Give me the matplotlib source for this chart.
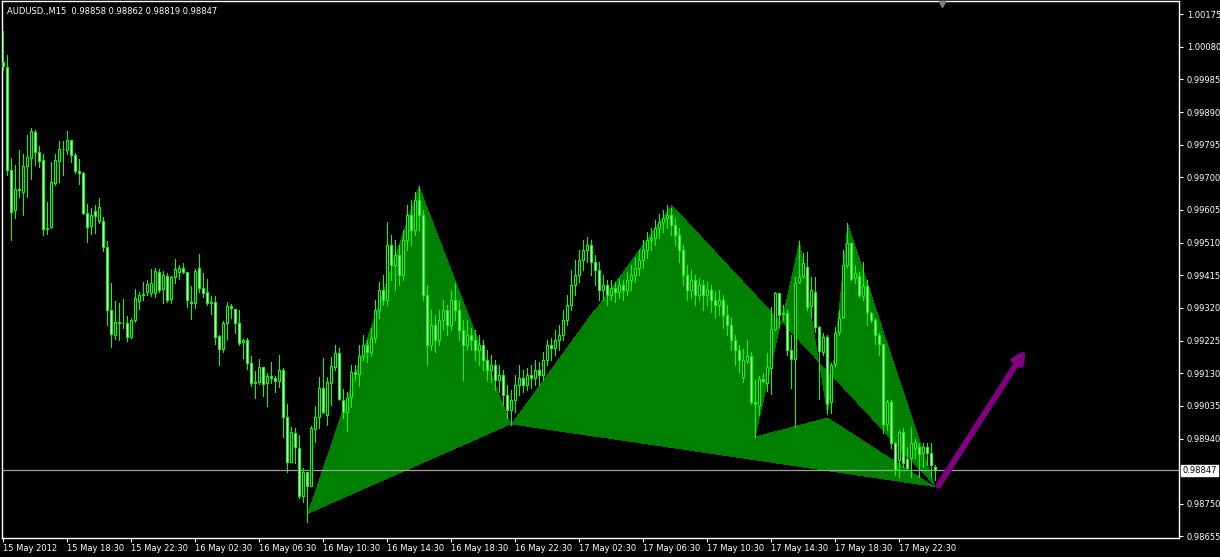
import numpy as np
import matplotlib
matplotlib.use("Agg")
import matplotlib.pyplot as plt
from matplotlib.path import Path
from matplotlib.patches import FancyArrowPatch
import matplotlib.transforms as mtransforms

title_text = "AUDUSD.,M15  0.98858 0.98862 0.98819 0.98847"

# OHLC in price points (1 point = 0.00001)
open_pts = [
    100036, 100021, 99721, 99605, 99666, 99657, 99733, 99756, 99832, 99774,
    99750, 99550, 99555, 99683, 99748, 99782, 99780, 99809, 99765, 99718,
    99713, 99596, 99558, 99602, 99573, 99573, 99497, 99314, 99241, 99279,
    99276, 99276, 99235, 99285, 99340, 99357, 99366, 99363, 99363, 99424,
    99375, 99413, 99346, 99410, 99424, 99436, 99424, 99337, 99334, 99436,
    99378, 99366, 99334, 99337, 99238, 99200, 99276, 99326, 99317, 99276,
    99221, 99227, 99160, 99101, 99104, 99148, 99101, 99122, 99116, 99107,
    99139, 99003, 98872, 98956, 98912, 98773, 98843, 98802, 98968, 99003,
    99087, 99008, 99101, 99148, 99189, 99052, 99017, 99061, 99133, 99128,
    99180, 99212, 99192, 99233, 99314, 99372, 99343, 99503, 99445, 99474,
    99416, 99518, 99590, 99547, 99634, 99590, 99358, 99212, 99270, 99227,
    99285, 99314, 99270, 99343, 99314, 99256, 99212, 99241, 99227, 99198,
    99212, 99168, 99139, 99154, 99110, 99125, 99067, 99023, 99052, 99096,
    99116, 99096, 99125, 99116, 99139, 99125, 99168, 99212, 99203, 99227,
    99241, 99285, 99328, 99387, 99416, 99459, 99489, 99503, 99454, 99430,
    99372, 99387, 99358, 99378, 99366, 99387, 99372, 99401, 99416, 99436,
    99459, 99489, 99518, 99523, 99553, 99570, 99582, 99590, 99561, 99532,
    99489, 99416, 99372, 99401, 99358, 99387, 99358, 99372, 99343, 99328,
    99343, 99299, 99270, 99227, 99198, 99119, 99166, 99180, 99046, 99035,
    99113, 99101, 99145, 99259, 99363, 99302, 99305, 99198, 99171, 99395,
    99413, 99439, 99326, 99366, 99265, 99192, 99235, 99046, 99157, 99250,
    99294, 99445, 99509, 99407, 99413, 99355, 99384, 99305, 99285, 99241,
    99215, 98982, 99046, 98927, 98877, 98959, 98880, 98883, 98912, 98915,
    98898, 98915, 98898, 98858,
]
high_pts = [
    100126, 100056, 99756, 99736, 99780, 99768, 99823, 99844, 99838, 99791,
    99768, 99628, 99745, 99768, 99806, 99806, 99835, 99810, 99771, 99753,
    99716, 99622, 99611, 99619, 99640, 99584, 99515, 99392, 99340, 99334,
    99346, 99296, 99291, 99375, 99366, 99395, 99401, 99433, 99436, 99433,
    99427, 99422, 99413, 99462, 99445, 99451, 99425, 99384, 99433, 99477,
    99422, 99404, 99355, 99355, 99241, 99282, 99337, 99331, 99317, 99314,
    99230, 99233, 99180, 99136, 99171, 99149, 99131, 99163, 99122, 99183,
    99145, 99040, 98973, 98971, 98950, 98854, 98844, 98976, 99035, 99119,
    99174, 99119, 99177, 99212, 99203, 99084, 99075, 99154, 99154, 99212,
    99241, 99227, 99262, 99343, 99395, 99416, 99570, 99532, 99518, 99503,
    99547, 99619, 99634, 99657, 99675, 99605, 99387, 99314, 99299, 99314,
    99343, 99328, 99372, 99392, 99343, 99285, 99285, 99262, 99256, 99241,
    99227, 99198, 99183, 99168, 99154, 99139, 99096, 99081, 99125, 99154,
    99139, 99145, 99154, 99168, 99163, 99192, 99227, 99233, 99256, 99270,
    99314, 99358, 99430, 99459, 99489, 99518, 99526, 99518, 99474, 99454,
    99416, 99401, 99401, 99395, 99407, 99401, 99424, 99445, 99465, 99489,
    99518, 99541, 99553, 99576, 99593, 99605, 99619, 99611, 99582, 99553,
    99503, 99445, 99430, 99416, 99407, 99401, 99395, 99387, 99366, 99372,
    99358, 99328, 99291, 99241, 99212, 99200, 99227, 99192, 99110, 99122,
    99131, 99189, 99323, 99366, 99364, 99328, 99314, 99241, 99410, 99515,
    99480, 99483, 99410, 99410, 99266, 99247, 99241, 99160, 99265, 99314,
    99489, 99567, 99510, 99445, 99425, 99454, 99401, 99308, 99291, 99247,
    99216, 99052, 99052, 98930, 98965, 98971, 98915, 98973, 98938, 98927,
    98927, 98927, 98927, 98862,
]
low_pts = [
    100012, 99707, 99518, 99582, 99643, 99590, 99643, 99695, 99736, 99730,
    99532, 99535, 99553, 99678, 99686, 99707, 99768, 99745, 99713, 99681,
    99593, 99512, 99535, 99538, 99567, 99486, 99270, 99206, 99230, 99227,
    99262, 99224, 99232, 99279, 99317, 99343, 99358, 99355, 99352, 99366,
    99334, 99337, 99334, 99392, 99404, 99422, 99323, 99288, 99320, 99366,
    99352, 99328, 99302, 99215, 99154, 99192, 99230, 99291, 99247, 99212,
    99174, 99142, 99093, 99058, 99099, 99064, 99035, 99101, 99075, 99090,
    98944, 98843, 98871, 98869, 98767, 98755, 98697, 98801, 98930, 98970,
    99014, 98979, 99038, 99139, 99052, 98999, 98962, 99032, 99110, 99093,
    99168, 99163, 99180, 99221, 99291, 99328, 99328, 99401, 99372, 99387,
    99401, 99489, 99503, 99532, 99547, 99343, 99154, 99198, 99192, 99212,
    99256, 99241, 99256, 99285, 99227, 99110, 99198, 99198, 99168, 99154,
    99139, 99110, 99104, 99081, 99075, 99038, 98999, 98979, 99017, 99067,
    99075, 99081, 99087, 99096, 99096, 99110, 99154, 99168, 99183, 99198,
    99227, 99270, 99314, 99358, 99395, 99430, 99454, 99416, 99387, 99343,
    99343, 99328, 99343, 99337, 99349, 99343, 99358, 99372, 99395, 99416,
    99436, 99465, 99489, 99503, 99523, 99541, 99553, 99532, 99503, 99454,
    99387, 99343, 99349, 99328, 99343, 99314, 99328, 99308, 99291, 99299,
    99262, 99241, 99198, 99154, 99133, 99104, 99160, 99041, 98944, 99009,
    99104, 99078, 99070, 99256, 99265, 99285, 99183, 99087, 98973, 99392,
    99407, 99314, 99294, 99250, 99055, 99183, 99014, 99014, 99151, 99241,
    99291, 99439, 99401, 99392, 99352, 99343, 99270, 99279, 99215, 99183,
    98956, 98965, 98912, 98834, 98828, 98857, 98848, 98828, 98883, 98828,
    98857, 98863, 98828, 98819,
]
close_pts = [
    100024, 99721, 99599, 99666, 99663, 99733, 99759, 99835, 99774, 99748,
    99550, 99553, 99686, 99750, 99782, 99783, 99809, 99765, 99718, 99713,
    99596, 99555, 99590, 99587, 99614, 99497, 99314, 99244, 99279, 99276,
    99277, 99235, 99285, 99349, 99357, 99360, 99390, 99392, 99427, 99372,
    99416, 99343, 99410, 99433, 99436, 99425, 99343, 99334, 99427, 99378,
    99363, 99334, 99337, 99235, 99200, 99276, 99326, 99320, 99276, 99218,
    99227, 99160, 99101, 99104, 99148, 99099, 99122, 99116, 99107, 99139,
    99003, 98872, 98959, 98915, 98773, 98843, 98802, 98970, 99003, 99087,
    99017, 99104, 99151, 99189, 99055, 99017, 99058, 99133, 99128, 99180,
    99212, 99192, 99233, 99314, 99372, 99343, 99503, 99445, 99474, 99416,
    99518, 99590, 99547, 99634, 99590, 99358, 99212, 99270, 99227, 99285,
    99314, 99270, 99343, 99314, 99256, 99212, 99241, 99227, 99198, 99212,
    99168, 99139, 99154, 99110, 99125, 99067, 99023, 99052, 99096, 99116,
    99096, 99125, 99116, 99139, 99125, 99168, 99212, 99203, 99227, 99241,
    99285, 99328, 99387, 99416, 99459, 99489, 99503, 99454, 99430, 99372,
    99387, 99358, 99378, 99366, 99387, 99372, 99401, 99416, 99436, 99459,
    99489, 99518, 99523, 99553, 99570, 99582, 99590, 99561, 99532, 99489,
    99416, 99372, 99401, 99358, 99387, 99358, 99372, 99343, 99328, 99343,
    99299, 99270, 99227, 99198, 99168, 99168, 99180, 99046, 99041, 99113,
    99107, 99148, 99259, 99363, 99299, 99305, 99198, 99171, 99392, 99410,
    99451, 99323, 99372, 99265, 99195, 99235, 99041, 99154, 99247, 99291,
    99445, 99509, 99404, 99422, 99358, 99384, 99308, 99285, 99241, 99215,
    98982, 99046, 98927, 98848, 98959, 98869, 98854, 98927, 98930, 98895,
    98915, 98898, 98863, 98847,
]

time_labels = ["15 May 2012", "15 May 18:30", "15 May 22:30", "16 May 02:30",
               "16 May 06:30", "16 May 10:30", "16 May 14:30", "16 May 18:30",
               "16 May 22:30", "17 May 02:30", "17 May 06:30", "17 May 10:30",
               "17 May 14:30", "17 May 18:30", "17 May 22:30"]
bars_per_label = 16
price_ticks_pts = [98655, 98750, 98940, 99035, 99130, 99225, 99320, 99415,
                   99510, 99605, 99700, 99795, 99890, 99985, 100080, 100175]
bid_pts = 98847

# harmonic patterns: (bar index, price points) for X, A, B, C, D
pattern1 = [(76, 98717), (104, 99675), (127, 98979), (167, 99619), (233, 98796)]
pattern2 = [(188, 98944), (199, 99518), (206, 98999), (211, 99567), (233, 98796)]
arrow_start = (233.4, 98796)
arrow_end = (256.0, 99206)

# ---------------------------------------------------------------
o = np.array(open_pts) / 1e5
h = np.array(high_pts) / 1e5
l = np.array(low_pts) / 1e5
c = np.array(close_pts) / 1e5
idx = np.arange(len(c))

W, H = 1220, 557
fig = plt.figure(figsize=(W / 100, H / 100), dpi=100, facecolor="black")
ax = fig.add_axes([2 / W, 19.5 / H, 1176.5 / W, 537 / H])
ax.set_facecolor("black")
x0, x1 = -0.25, 293.8
y0, y1 = 0.98652, 1.002145

# XOR-style filled triangles (like MT4 background objects)
tris = []
for p in (pattern1, pattern2):
    X, A, B, C, D = [(px, py / 1e5) for px, py in p]
    tris += [(X, A, B), (B, C, D)]
nx, ny = 1176, 537
gx = np.linspace(x0, x1, nx)
gy = np.linspace(y0, y1, ny)
GX, GY = np.meshgrid(gx, gy)
pts = np.column_stack([GX.ravel(), GY.ravel()])
count = np.zeros(len(pts), dtype=int)
for t in tris:
    count += Path(list(t) + [t[0]], closed=True).contains_points(pts).astype(int)
mask = (count % 2 == 1).reshape(ny, nx)
img = np.zeros((ny, nx, 4))
img[mask] = (0, 128 / 255, 0, 1)
ax.imshow(img, extent=(x0, x1, y0, y1), origin="lower", aspect="auto",
          interpolation="nearest", zorder=1)

# bid line
bid = bid_pts / 1e5
ax.axhline(bid, color="#a0a0a0", lw=0.9, zorder=2)

# candles
lime = "#00ff00"
ax.vlines(idx, l, h, colors=lime, lw=0.72, zorder=3, antialiased=False)
bottoms = np.minimum(o, c)
heights = np.maximum(np.abs(c - o), 0.000015)
fills = np.where(c >= o, "black", "white")
ax.bar(idx, heights, bottom=bottoms, width=0.5, color=fills, edgecolor=lime,
       linewidth=0.8, zorder=4)

# arrow
arr = FancyArrowPatch((arrow_start[0], arrow_start[1] / 1e5),
                      (arrow_end[0], arrow_end[1] / 1e5),
                      arrowstyle="-|>", mutation_scale=16, lw=4.3,
                      color="#800080", capstyle="round", joinstyle="round",
                      zorder=5)
ax.add_patch(arr)

ax.set_xlim(x0, x1)
ax.set_ylim(y0, y1)

# axes styling
for s in ax.spines.values():
    s.set_color("white")
    s.set_linewidth(1.0)
ax.yaxis.tick_right()
yt = np.array(price_ticks_pts) / 1e5
ax.set_yticks(yt)
ax.set_yticklabels([f"{v:.5f}" for v in yt])
ax.set_xticks(np.arange(len(time_labels)) * bars_per_label)
ax.set_xticklabels(time_labels, ha="left")
ax.tick_params(axis="both", colors="white", labelsize=6, length=3,
               direction="out", width=0.8)
ax.tick_params(axis="y", pad=3)
ax.tick_params(axis="x", pad=2)

# price tag
trans = mtransforms.blended_transform_factory(ax.transAxes, ax.transData)
ax.text(1.0 + 4 / 1176.5, bid, f"{bid:.5f}", transform=trans, ha="left",
        va="center", fontsize=6, color="black",
        bbox=dict(boxstyle="square,pad=0.15", fc="white", ec="white"), zorder=10,
        clip_on=False)

# shift marker
trans2 = mtransforms.blended_transform_factory(ax.transData, ax.transAxes)
ax.plot([234.8], [0.993], marker="v", color="#808080", markersize=5,
        transform=trans2, clip_on=False, zorder=6)

# title
ax.text(5 / 1176.5, 1 - 11 / 537, title_text, transform=ax.transAxes,
        color="white", fontsize=6, va="center", ha="left", zorder=10)

fig.savefig("out.png", dpi=100, facecolor="black")
